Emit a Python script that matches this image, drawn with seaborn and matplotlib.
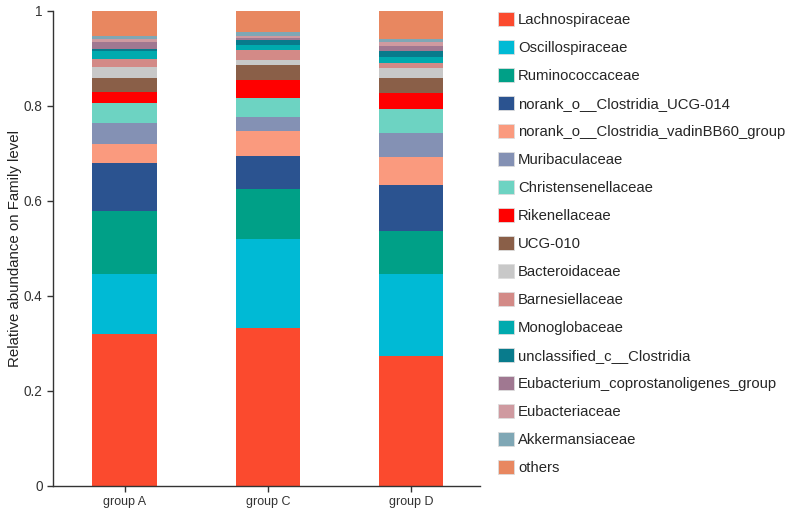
import numpy as np
import pandas as pd
import matplotlib
matplotlib.use("Agg")
import matplotlib.pyplot as plt
from matplotlib.patches import Patch
import seaborn as sns

groups = ["group A", "group C", "group D"]

families = [
    "Lachnospiraceae",
    "Oscillospiraceae",
    "Ruminococcaceae",
    "norank_o__Clostridia_UCG-014",
    "norank_o__Clostridia_vadinBB60_group",
    "Muribaculaceae",
    "Christensenellaceae",
    "Rikenellaceae",
    "UCG-010",
    "Bacteroidaceae",
    "Barnesiellaceae",
    "Monoglobaceae",
    "unclassified_c__Clostridia",
    "Eubacterium_coprostanoligenes_group",
    "Eubacteriaceae",
    "Akkermansiaceae",
    "others",
]

colors = [
    "#FB4A2E", "#00BAD5", "#00A087", "#2B5390", "#FA9A7E", "#8491B4",
    "#6DD3C2", "#FF0000", "#8A5F48", "#C8C8C8", "#D38A87", "#00AAAE",
    "#087B8C", "#A07891", "#CF9AA0", "#7FA7B5", "#E88760",
]

# relative abundance, one list per group, in family order
group_a = [0.319, 0.127, 0.133, 0.101, 0.039, 0.045, 0.042, 0.023, 0.029,
           0.025, 0.016, 0.017, 0.005, 0.014, 0.006, 0.006, 0.052]
group_c = [0.333, 0.186, 0.106, 0.069, 0.054, 0.029, 0.039, 0.038, 0.033,
           0.009, 0.021, 0.011, 0.011, 0.004, 0.004, 0.008, 0.045]
group_d = [0.273, 0.174, 0.089, 0.098, 0.059, 0.051, 0.049, 0.034, 0.031,
           0.021, 0.011, 0.014, 0.011, 0.012, 0.008, 0.007, 0.058]

df = pd.DataFrame({"group A": group_a, "group C": group_c, "group D": group_d},
                  index=families)
cum = df.cumsum()

sns.set_theme(style="ticks")
plt.rcParams["font.family"] = ["Liberation Sans", "DejaVu Sans"]

fig = plt.figure(figsize=(7.92, 5.14), dpi=100)
ax = fig.add_axes([0.0669, 0.0545, 0.5391, 0.9241])

# draw cumulative totals from the top down so each layer covers the one above
for fam, col in reversed(list(zip(families, colors))):
    d = pd.DataFrame({"group": groups, "value": cum.loc[fam, groups].values})
    sns.barplot(data=d, x="group", y="value", color=col, width=0.45,
                saturation=1, linewidth=0, ax=ax)

ax.set_xlim(-0.5, 2.48)
ax.set_ylim(0, 1)
ax.set_yticks([0, 0.2, 0.4, 0.6, 0.8, 1])
ax.set_yticklabels(["0", "0.2", "0.4", "0.6", "0.8", "1"])
ax.set_xlabel("")
ax.set_ylabel("Relative abundance on Family level", fontsize=10.8,
              color="#222222", labelpad=1)
ax.tick_params(axis="both", labelsize=9.8, colors="#333333", length=4, width=1)
ax.tick_params(axis="x", labelsize=9)
sns.despine(ax=ax)
for s in ["left", "bottom"]:
    ax.spines[s].set_color("#333333")
    ax.spines[s].set_linewidth(1)

handles = [Patch(facecolor=c, edgecolor="#dddddd", linewidth=0.6) for c in colors]
fig.legend(handles, families, loc="upper left", bbox_to_anchor=(0.629, 0.977),
           frameon=False, fontsize=10.75, labelspacing=0.865, handlelength=1.07,
           handleheight=1.07, handletextpad=0.25, borderpad=0, borderaxespad=0)

fig.savefig("out.png", dpi=100)
